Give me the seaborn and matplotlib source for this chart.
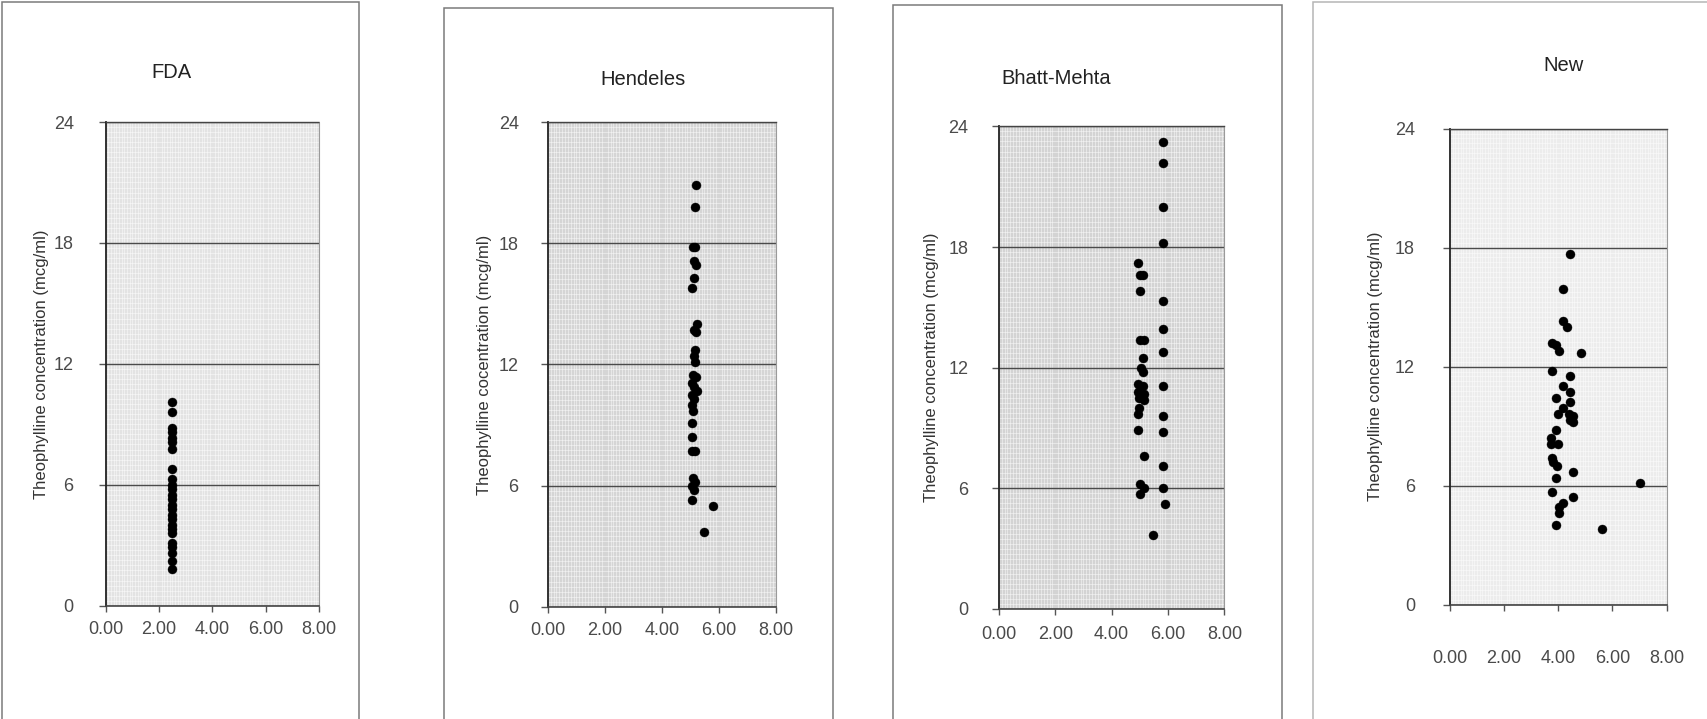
import matplotlib
matplotlib.use("Agg")
import matplotlib.pyplot as plt
from matplotlib.patches import Rectangle
from matplotlib.ticker import MultipleLocator, FixedLocator
import seaborn as sns
import pandas as pd

sns.set_theme(style="white")
plt.rcParams['font.family'] = ['Liberation Sans', 'DejaVu Sans']

titles = ["FDA", "Hendeles", "Bhatt-Mehta", "New"]
ylabels = ["Theophylline concentration (mcg/ml)",
           "Theophylline cocentration (mcg/ml)",
           "Theophylline concentration (mcg/ml)",
           "Theophylline concentration (mcg/ml)"]
x_ticks = [0, 2, 4, 6, 8]
x_tick_labels = ["0.00", "2.00", "4.00", "6.00", "8.00"]
y_ticks = [0, 6, 12, 18, 24]

fda_x = [2.5] * 25
fda_y = [10.1, 9.6, 8.8, 8.6, 8.3, 8.1, 7.8, 6.8, 6.3, 6.0, 5.8, 5.5, 5.3,
         5.0, 4.8, 4.5, 4.3, 4.0, 3.8, 3.6, 3.1, 2.9, 2.6, 2.2, 1.8]

hend_x = [5.20, 5.18, 5.10, 5.18, 5.12, 5.20, 5.12, 5.05, 5.25, 5.12, 5.20,
          5.18, 5.15, 5.18, 5.10, 5.22, 5.05, 5.15, 5.25, 5.08, 5.15, 5.05,
          5.10, 5.08, 5.08, 5.05, 5.18, 5.10, 5.18, 5.08, 5.12, 5.05, 5.80, 5.48]
hend_y = [20.9, 19.8, 17.8, 17.8, 17.1, 16.9, 16.3, 15.8, 14.0, 13.7, 13.6,
          12.7, 12.4, 12.1, 11.5, 11.4, 11.1, 10.9, 10.7, 10.5, 10.3, 10.0,
          9.7, 9.1, 8.4, 7.7, 7.7, 6.4, 6.2, 6.0, 5.8, 5.3, 5.0, 3.7]

bm_x = [5.81, 5.81, 5.81, 5.81, 5.81, 5.81, 5.81, 5.81, 5.81, 5.81, 5.81,
        5.81, 5.89, 5.48,
        4.92, 5.02, 5.12, 5.00, 5.00, 5.15, 5.10, 5.06, 5.10, 4.92, 5.10,
        4.92, 5.16, 4.98, 5.16, 4.98, 4.92, 4.95, 5.16, 5.02, 5.16, 5.00]
bm_y = [23.2, 22.2, 20.0, 18.2, 15.3, 13.9, 12.8, 11.1, 9.6, 8.8, 7.1,
        6.0, 5.2, 3.7,
        17.2, 16.6, 16.6, 15.8, 13.4, 13.4, 12.5, 12.0, 11.8, 11.2, 11.1,
        10.8, 10.7, 10.5, 10.4, 10.0, 9.7, 8.9, 7.6, 6.2, 6.0, 5.7]

new_x = [4.44, 4.19, 4.16, 4.31, 3.78, 3.90, 4.04, 4.85, 3.78, 4.44, 4.16,
         4.44, 3.90, 4.44, 4.16, 4.00, 4.38, 4.56, 4.44, 4.56, 3.90, 3.75,
         4.00, 3.75, 3.78, 3.81, 3.94, 4.56, 3.90, 3.78, 4.56, 7.03, 4.16,
         4.03, 4.03, 3.90, 5.60]
new_y = [17.7, 15.9, 14.3, 14.0, 13.2, 13.1, 12.8, 12.7, 11.8, 11.5, 11.0,
         10.7, 10.4, 10.2, 9.9, 9.6, 9.6, 9.5, 9.3, 9.2, 8.8, 8.4,
         8.1, 8.1, 7.4, 7.2, 7.0, 6.7, 6.4, 5.7, 5.4, 6.15, 5.1,
         4.9, 4.6, 4.0, 3.8]

data = [(fda_x, fda_y), (hend_x, hend_y), (bm_x, bm_y), (new_x, new_y)]

W, H = 1568.0, 660.0
# axes boxes in reference pixel coords (left, right, top, bottom)
axes_px = [(97, 293, 112, 556), (503, 712, 112, 557),
           (917, 1124, 116, 559), (1331, 1530, 118, 555)]
title_px = [(157, 67), (590, 73), (970, 72), (1435, 60)]
ylabel_px = [45, 452, 862, 1270]
xpad = [7, 7, 8, 29]
ypad = [18, 16, 17, 20]
faces = ["#e3e3e3", "#d5d5d5", "#d3d3d3", "#ececec"]
frames = [(2, 330, 2, "#7a7a7a"), (408, 765, 7, "#7a7a7a"),
          (820, 1177, 5, "#7a7a7a"), (1205, 1580, 2, "#b5b5b5")]

fig = plt.figure(figsize=(17.08, 7.19), dpi=100)
fig.patch.set_facecolor("white")

for (l, r, t, c) in frames:
    fig.add_artist(Rectangle((l / W, -0.05), (r - l) / W, 1.05 - t / H,
                             transform=fig.transFigure, fill=False,
                             edgecolor=c, linewidth=1.1))

for i, (xs, ys) in enumerate(data):
    l, r, t, b = axes_px[i]
    ax = fig.add_axes([l / W, 1 - b / H, (r - l) / W, (b - t) / H])
    ax.set_facecolor(faces[i])
    df = pd.DataFrame({"x": xs, "y": ys})
    sns.scatterplot(data=df, x="x", y="y", ax=ax, color="black", s=42,
                    edgecolor="black", linewidth=0.3, zorder=5)
    ax.set_xlim(0, 8)
    ax.set_ylim(0, 24)
    ax.xaxis.set_major_locator(FixedLocator(x_ticks))
    ax.set_xticklabels(x_tick_labels)
    ax.yaxis.set_major_locator(FixedLocator(y_ticks))
    ax.set_yticklabels([str(v) for v in y_ticks])
    ax.xaxis.set_minor_locator(MultipleLocator(0.1))
    ax.yaxis.set_minor_locator(MultipleLocator(0.25))
    ax.grid(which="minor", color="white", linewidth=0.45, alpha=0.7)
    ax.grid(which="major", axis="y", color="#4a4a4a", linewidth=1.0)
    ax.grid(which="major", axis="x", visible=False)
    ax.tick_params(axis="x", which="major", direction="out", length=4,
                   width=1, color="#555555", pad=xpad[i], labelsize=13,
                   labelcolor="#4a4a4a", bottom=True)
    ax.tick_params(axis="y", which="major", direction="out", length=5,
                   width=1, color="#555555", pad=ypad[i], labelsize=13,
                   labelcolor="#4a4a4a", left=True)
    ax.tick_params(which="minor", length=0)
    ax.spines["left"].set_color("#222222")
    ax.spines["left"].set_linewidth(1.3)
    ax.spines["bottom"].set_color("#444444")
    ax.spines["bottom"].set_linewidth(1.2)
    ax.spines["top"].set_color("#444444")
    ax.spines["top"].set_linestyle((0, (1, 1)))
    ax.spines["top"].set_linewidth(1.0)
    ax.spines["right"].set_color("#9a9a9a")
    ax.spines["right"].set_linestyle((0, (1, 1)))
    ax.spines["right"].set_linewidth(0.8)
    ax.set_xlabel("")
    ax.set_ylabel(ylabels[i], fontsize=12, color="#333333")
    ax.yaxis.set_label_coords((ylabel_px[i] - l) / (r - l), 0.5)
    tx, ty = title_px[i]
    fig.text(tx / W, 1 - ty / H, titles[i], ha="center", va="center",
             fontsize=14.5, color="#222222")

fig.savefig("out.png", dpi=100, facecolor="white")
